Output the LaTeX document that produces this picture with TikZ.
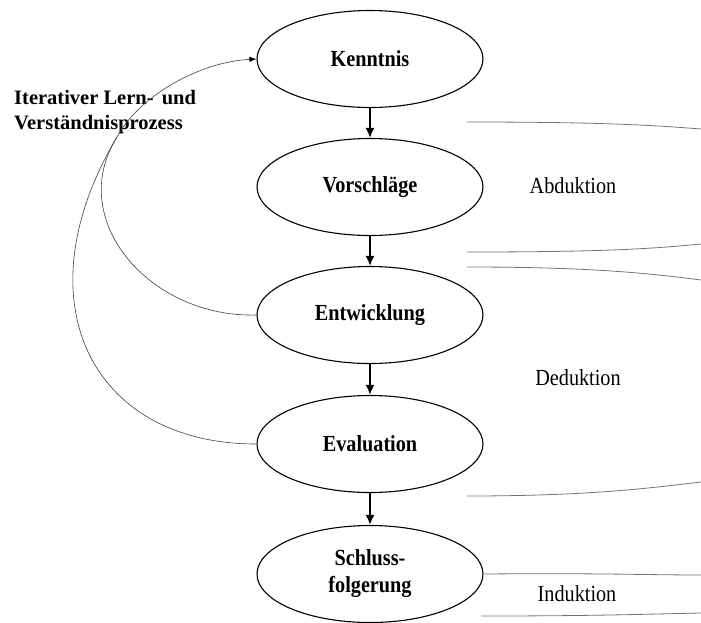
\documentclass[tikz,border=0pt]{standalone}
\usepackage{fontspec}
\setmainfont{Liberation Serif}
\newfontfamily\cond[FakeStretch=0.88]{Liberation Serif}
\usetikzlibrary{shapes.geometric,arrows.meta}
\begin{document}
\begin{tikzpicture}[x=1pt,y=-1pt,
  stage/.style={ellipse, draw, line width=1.1pt, minimum width=226pt, minimum height=97pt,
    inner sep=0pt, align=center, font=\cond\bfseries\fontsize{23}{27}\selectfont},
  flow/.style={line width=2.2pt, -{Latex[length=10pt,width=9pt]}},
  loopline/.style={line width=0.6pt, black!75},
  braceline/.style={line width=0.8pt, black!55},
  method/.style={inner sep=0pt, font=\cond\fontsize{23}{27}\selectfont}]
\useasboundingbox (0,0) rectangle (701,622);

% process stages
\node[stage] (K)  at (370,59)  {Kenntnis};
\node[stage] (V)  at (370,187) {Vorschläge};
\node[stage] (E)  at (370,315) {Entwicklung};
\node[stage] (Ev) at (370,444) {Evaluation};
\node[stage] (S)  at (370,574) {Schluss-\\folgerung};

\draw[flow] (K) -- (V);
\draw[flow] (V) -- (E);
\draw[flow] (E) -- (Ev);
\draw[flow] (Ev) -- (S);

% iterative feedback loop
\node[inner sep=0pt, anchor=north west, align=left,
      font=\bfseries\fontsize{20.5}{25}\selectfont] (L) at (14,90)
  {Iterativer Lern-\hspace{0.4em}und\\Verständnisprozess};
\coordinate (m) at (117,137);
\draw[loopline] (E.west) .. controls (150,318) and (65,220) .. (m);
\draw[loopline] (Ev.west) .. controls (90,444) and (20,300) .. (m);
\draw[loopline, -{Latex[length=7pt,width=5.5pt,color=black]}] (m) .. controls (140,95) and (200,62) .. (K.west);

% bracket lines of the reasoning modes
\draw[braceline] (467,122) .. controls (600,122) and (650,125) .. (701,129);
\draw[braceline] (467,252) .. controls (600,252) and (650,249) .. (701,244);
\draw[braceline] (467,267) .. controls (580,267) and (640,272) .. (701,280);
\draw[braceline] (467,496) .. controls (590,496) and (650,488) .. (701,482);
\draw[braceline] (S.east) .. controls (600,573) and (650,575) .. (701,575);
\draw[braceline] (481,616) .. controls (600,616) and (650,614) .. (701,613);

\node[method] (ab) at (573,186) {Abduktion};
\node[method] (de) at (578,378) {Deduktion};
\node[method] (in) at (577,594) {Induktion};
\end{tikzpicture}
\end{document}
